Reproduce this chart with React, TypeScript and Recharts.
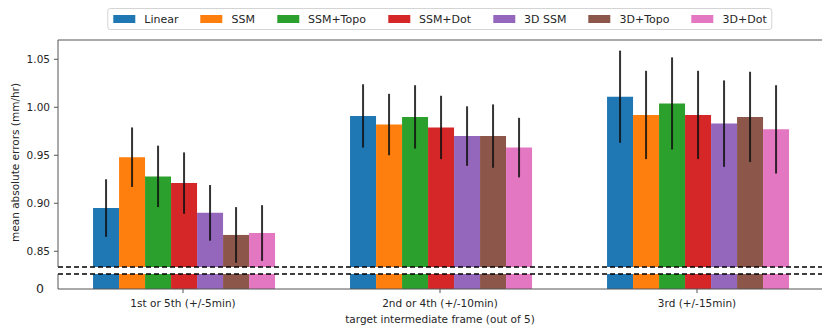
import { BarChart, Bar, XAxis, YAxis, ErrorBar, ReferenceLine } from 'recharts'

const CATEGORIES = ['1st or 5th (+/-5min)', '2nd or 4th (+/-10min)', '3rd (+/-15min)']
const SERIES = ['Linear', 'SSM', 'SSM+Topo', 'SSM+Dot', '3D SSM', '3D+Topo', '3D+Dot']
const COLORS = ['#1f77b4', '#ff7f0e', '#2ca02c', '#d62728', '#9467bd', '#8c564b', '#e377c2']

// mean absolute error per category, one array per model
const linear = [0.895, 0.991, 1.011]
const ssm = [0.948, 0.982, 0.992]
const ssmTopo = [0.928, 0.99, 1.004]
const ssmDot = [0.921, 0.979, 0.992]
const ssm3d = [0.89, 0.97, 0.983]
const topo3d = [0.867, 0.97, 0.99]
const dot3d = [0.869, 0.958, 0.977]

// error bar half-lengths
const linearErr = [0.03, 0.033, 0.048]
const ssmErr = [0.031, 0.032, 0.046]
const ssmTopoErr = [0.032, 0.033, 0.048]
const ssmDotErr = [0.032, 0.033, 0.046]
const ssm3dErr = [0.029, 0.031, 0.045]
const topo3dErr = [0.029, 0.033, 0.047]
const dot3dErr = [0.029, 0.031, 0.046]

const VALUES = [linear, ssm, ssmTopo, ssmDot, ssm3d, topo3d, dot3d]
const ERRORS = [linearErr, ssmErr, ssmTopoErr, ssmDotErr, ssm3dErr, topo3dErr, dot3dErr]

const Y_TICKS = [0.85, 0.9, 0.95, 1.0, 1.05]
const UPPER_DOMAIN: [number, number] = [0.8336, 1.0701]
const LOWER_DOMAIN: [number, number] = [0, 0.02]

const data = CATEGORIES.map((cat, i) => {
  const row: Record<string, string | number> = { cat }
  SERIES.forEach((_, j) => {
    row[`v${j}`] = VALUES[j][i]
    row[`e${j}`] = ERRORS[j][i]
  })
  return row
})

const FONT = 'DejaVu Sans'
const TEXT = '#262626'
const SPINE = '#555'
const FS = 10.5
const PAD = { left: -3.5, right: -3.5 }
const TOP = 40
const UPPER_H = 270
const BOTTOM_GAP = 3
const LOWER_TOP = 270
const LOWER_H = 62
const LOWER_MARGIN_TOP = 4
const X_AXIS_H = 43

// rotated y label, centred on both panels together (top of upper to bottom of lower)
const YLabel = () => {
  const cx = 15
  const cy = (TOP + LOWER_TOP + LOWER_H - X_AXIS_H) / 2 - 2
  return (
    <text
      x={cx}
      y={cy}
      transform={`rotate(-90, ${cx}, ${cy})`}
      textAnchor="middle"
      dominantBaseline="central"
      fontSize={FS}
      fontFamily={FONT}
      fill={TEXT}
    >
      mean absolute errors (mm/hr)
    </text>
  )
}

export default function App() {
  return (
    <div style={{ position: 'absolute', left: 0, top: 0, width: 830, height: 332, background: '#fff', fontFamily: FONT }}>
      <div style={{ position: 'absolute', left: 0, top: 0 }}>
        <BarChart width={830} height={UPPER_H} data={data} margin={{ top: TOP, right: 8, bottom: BOTTOM_GAP, left: 8 }} barCategoryGap="15%" barGap={0} style={{ overflow: 'visible' }}>
          <XAxis dataKey="cat" hide padding={PAD} />
          <YAxis
            domain={UPPER_DOMAIN}
            allowDataOverflow
            ticks={Y_TICKS}
            tickFormatter={(v: number) => v.toFixed(2)}
            width={50}
            tickSize={4}
            tickMargin={4}
            axisLine={{ stroke: SPINE }}
            tickLine={{ stroke: SPINE }}
            tick={{ fontSize: FS, fill: TEXT, fontFamily: FONT }}
            label={{ content: YLabel }}
          />
          <YAxis yAxisId="r" orientation="right" width={0} tick={false} tickLine={false} axisLine={{ stroke: SPINE }} />
          {SERIES.map((s, j) => (
            <Bar key={s} dataKey={`v${j}`} name={s} fill={COLORS[j]} isAnimationActive={false}>
              <ErrorBar dataKey={`e${j}`} width={0} stroke="#111" strokeWidth={2} strokeOpacity={0.85} />
            </Bar>
          ))}
          <ReferenceLine y={UPPER_DOMAIN[1]} stroke={SPINE} />
          <ReferenceLine y={UPPER_DOMAIN[0]} stroke="#000" strokeWidth={1.3} strokeDasharray="5 3" />
        </BarChart>
      </div>
      <div style={{ position: 'absolute', left: 0, top: LOWER_TOP }}>
        <BarChart width={830} height={LOWER_H} data={data} margin={{ top: LOWER_MARGIN_TOP, right: 8, bottom: 0, left: 8 }} barCategoryGap="15%" barGap={0}>
          <XAxis
            dataKey="cat"
            height={X_AXIS_H}
            padding={PAD}
            interval={0}
            tickSize={4}
            tickMargin={7}
            axisLine={{ stroke: SPINE }}
            tickLine={{ stroke: SPINE }}
            tick={{ fontSize: FS, fill: TEXT, fontFamily: FONT }}
            label={{ value: 'target intermediate frame (out of 5)', position: 'insideBottom', offset: 9, fontSize: FS, fill: TEXT, fontFamily: FONT }}
          />
          <YAxis
            domain={LOWER_DOMAIN}
            allowDataOverflow
            ticks={[0]}
            width={50}
            tickLine={false}
            tickSize={0}
            tickMargin={14}
            axisLine={{ stroke: SPINE }}
            tick={{ fontSize: 12.5, fill: TEXT, fontFamily: FONT }}
          />
          <YAxis yAxisId="r" orientation="right" width={0} tick={false} tickLine={false} axisLine={{ stroke: SPINE }} />
          {SERIES.map((s, j) => (
            <Bar key={s} dataKey={`v${j}`} name={s} fill={COLORS[j]} isAnimationActive={false} />
          ))}
          <ReferenceLine y={LOWER_DOMAIN[1]} stroke="#000" strokeWidth={1.3} strokeDasharray="5 3" />
        </BarChart>
      </div>
      <div
        style={{
          position: 'absolute',
          top: 8,
          left: 440,
          transform: 'translateX(-50%)',
          height: 22,
          boxSizing: 'border-box',
          border: '1px solid #d4d4d4',
          borderRadius: 3,
          display: 'flex',
          alignItems: 'center',
          padding: '0 5px',
          fontSize: 11,
          color: TEXT,
          whiteSpace: 'nowrap',
        }}
      >
        {SERIES.map((s, j) => (
          <span key={s} style={{ display: 'flex', alignItems: 'center', marginRight: j < SERIES.length - 1 ? 22 : 0 }}>
            <span style={{ width: 22, height: 8, background: COLORS[j], marginRight: 9 }} />
            {s}
          </span>
        ))}
      </div>
    </div>
  )
}
